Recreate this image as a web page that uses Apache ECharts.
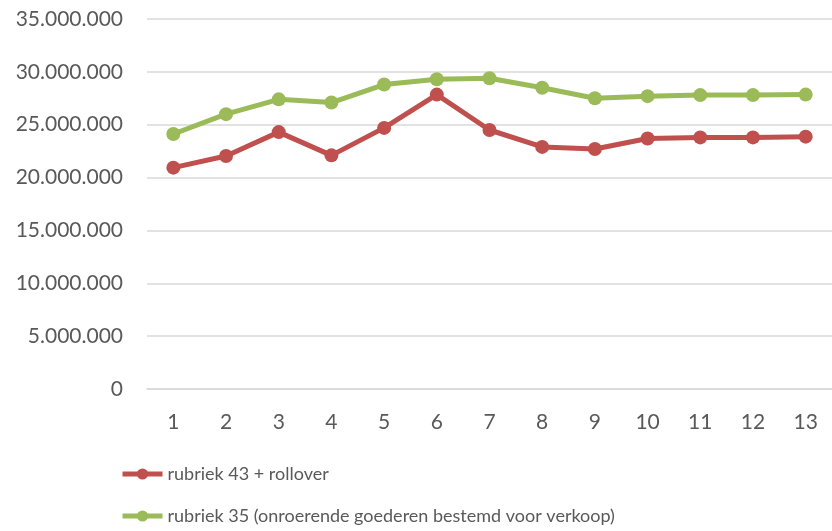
<!DOCTYPE html>
<html>
<head>
<meta charset="utf-8">
<script src="https://cdn.jsdelivr.net/npm/echarts@6/dist/echarts.min.js"></script>
<style>
  html, body { margin: 0; padding: 0; background: #fff; }
  #chart { width: 832px; height: 531px; }
</style>
</head>
<body>
<div id="chart"></div>
<script>
  // periods 1..13
  var categories = ['1', '2', '3', '4', '5', '6', '7', '8', '9', '10', '11', '12', '13'];
  var rubriek43 = [20940000, 22040000, 24300000, 22100000, 24700000, 27850000, 24500000,
                   22900000, 22700000, 23700000, 23800000, 23800000, 23870000];
  var rubriek35 = [24120000, 26000000, 27400000, 27100000, 28800000, 29300000, 29400000,
                   28500000, 27500000, 27700000, 27800000, 27800000, 27850000];
  var seriesNames = ['rubriek 43 + rollover', 'rubriek 35 (onroerende goederen bestemd voor verkoop)'];

  function dotted(v) {
    return String(v).replace(/\B(?=(\d{3})+(?!\d))/g, '.');
  }

  var chart = echarts.init(document.getElementById('chart'));
  chart.setOption({
    animation: false,
    textStyle: { fontFamily: 'Lato' },
    legend: {
      orient: 'vertical',
      left: 120,
      top: 464,
      padding: 0,
      itemWidth: 40,
      itemHeight: 14,
      itemGap: 22,
      lineStyle: { width: 5 },
      textStyle: { fontSize: 18, color: '#595959', lineHeight: 20, fontFamily: 'Lato' },
      data: seriesNames
    },
    grid: {
      left: 147,
      right: -8,
      top: 19,
      bottom: 142,
      containLabel: false
    },
    xAxis: {
      type: 'category',
      data: categories,
      boundaryGap: true,
      axisLine: { show: true, lineStyle: { color: '#d9d9d9', width: 1.5 } },
      axisTick: { show: false },
      axisLabel: { margin: 23, fontSize: 21, color: '#595959', fontFamily: 'Lato' }
    },
    yAxis: {
      type: 'value',
      min: 0,
      max: 35000000,
      interval: 5000000,
      axisLine: { show: false },
      axisTick: { show: false },
      splitLine: { lineStyle: { color: '#d9d9d9', width: 1.5 } },
      axisLabel: {
        margin: 24,
        fontSize: 21,
        color: '#595959',
        fontFamily: 'Lato',
        formatter: dotted
      }
    },
    series: [
      {
        name: seriesNames[0],
        type: 'line',
        data: rubriek43,
        symbol: 'circle',
        symbolSize: 14,
        lineStyle: { color: '#C0504D', width: 5 },
        itemStyle: { color: '#C0504D' }
      },
      {
        name: seriesNames[1],
        type: 'line',
        data: rubriek35,
        symbol: 'circle',
        symbolSize: 14,
        lineStyle: { color: '#9BBB59', width: 5 },
        itemStyle: { color: '#9BBB59' }
      }
    ]
  });
</script>
</body>
</html>
